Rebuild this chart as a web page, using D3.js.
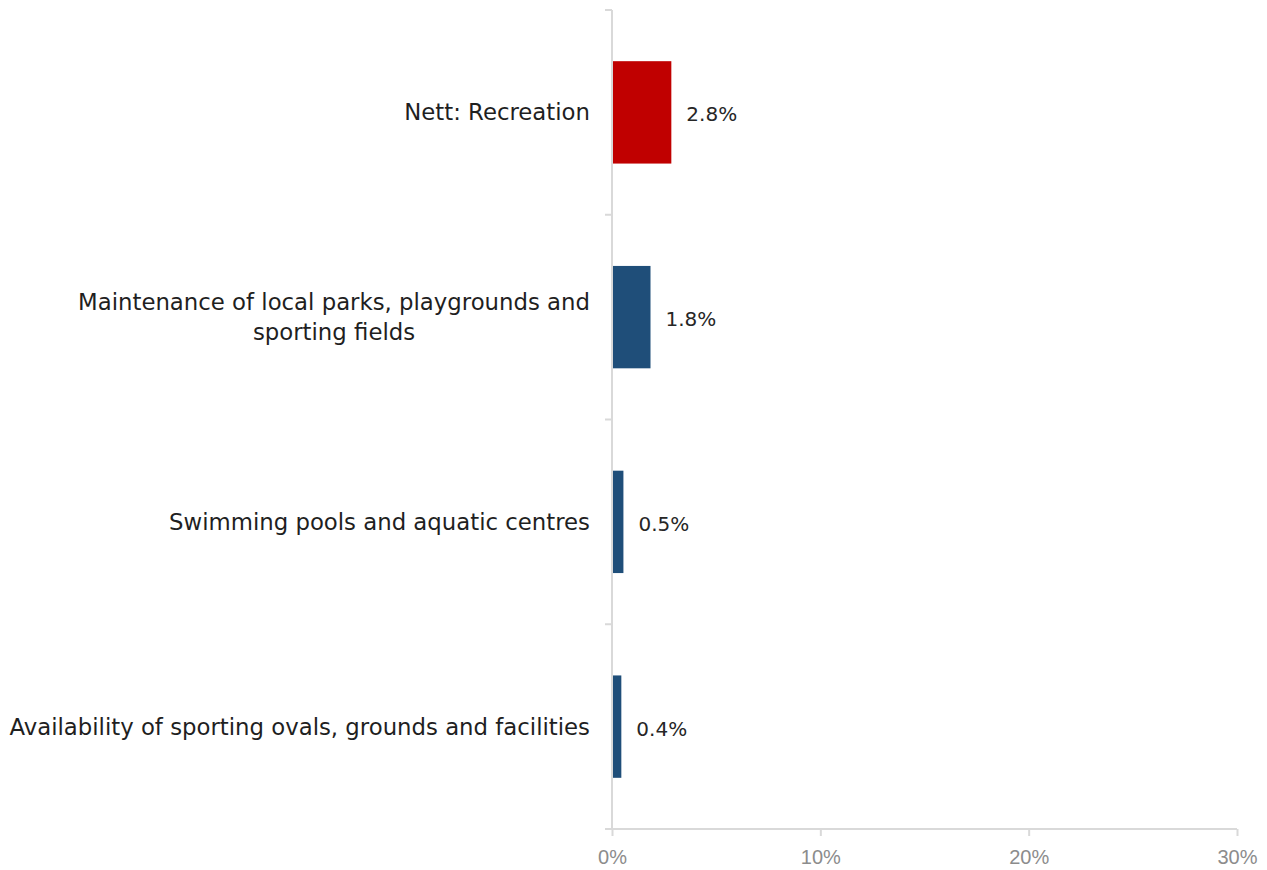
<!DOCTYPE html>
<html>
<head>
<meta charset="utf-8">
<script src="https://cdn.jsdelivr.net/npm/d3@7"></script>
<style>
  html, body { margin: 0; padding: 0; background: #fff; }
  svg { display: block; }
</style>
</head>
<body>
<svg id="chart" width="1267" height="870"></svg>
<script>
// Category labels (line breaks marked with \n), values in percent, bar colours
const categories = [
  "Nett: Recreation",
  "Maintenance of local parks, playgrounds and\nsporting fields",
  "Swimming pools and aquatic centres",
  "Availability of sporting ovals, grounds and facilities"
];
const values = [2.8, 1.8, 0.5, 0.4];
const barColors = ["#c00000", "#1f4e79", "#1f4e79", "#1f4e79"];
const xTicks = [0, 10, 20, 30];

const svg = d3.select("#chart");
const plot = { left: 612, right: 1237, top: 10, bottom: 829 };

const x = d3.scaleLinear().domain([0, 30]).range([plot.left, plot.right]);
const y = d3.scaleBand().domain(categories).range([plot.top, plot.bottom]).paddingInner(0.5).paddingOuter(0.25);

const axisColor = "#d9d9d9";
const labelFont = "'DejaVu Sans', sans-serif";

// Bars
svg.append("g").selectAll("rect")
  .data(categories)
  .join("rect")
  .attr("x", x(0) + 1)
  .attr("y", d => y(d))
  .attr("width", (d, i) => x(values[i]) - x(0))
  .attr("height", y.bandwidth())
  .attr("fill", (d, i) => barColors[i]);

// Value labels
svg.append("g").selectAll("text")
  .data(categories)
  .join("text")
  .attr("x", (d, i) => x(values[i]) + 16)
  .attr("y", d => y(d) + y.bandwidth() / 2 + 2)
  .attr("dy", "0.35em")
  .attr("font-family", labelFont)
  .attr("font-size", 20)
  .attr("fill", "#262626")
  .text((d, i) => values[i].toFixed(1) + "%");

// Vertical (category) axis with boundary ticks between categories
const yAxis = svg.append("g");
yAxis.append("line")
  .attr("x1", plot.left).attr("x2", plot.left)
  .attr("y1", plot.top).attr("y2", plot.bottom)
  .attr("stroke", axisColor).attr("stroke-width", 2);
const bounds = d3.range(categories.length + 1).map(i => plot.top + i * (plot.bottom - plot.top) / categories.length);
yAxis.selectAll("line.tick")
  .data(bounds)
  .join("line")
  .attr("class", "tick")
  .attr("x1", plot.left - 7).attr("x2", plot.left)
  .attr("y1", d => d).attr("y2", d => d)
  .attr("stroke", axisColor).attr("stroke-width", 2);

// Category labels, right-aligned block, lines centred within the block
categories.forEach(c => {
  const lines = c.split("\n");
  const cy = y(c) + y.bandwidth() / 2;
  const lh = 30;
  const t = svg.append("text")
    .attr("font-family", labelFont)
    .attr("font-size", 22.8)
    .attr("fill", "#1f1f1f");
  lines.forEach((ln, i) => {
    t.append("tspan")
      .attr("x", 0)
      .attr("y", cy + (i - (lines.length - 1) / 2) * lh)
      .attr("dy", "0.35em")
      .attr("text-anchor", "middle")
      .text(ln);
  });
  const w = t.node().getBBox().width;
  t.selectAll("tspan").attr("x", 590 - w / 2);
});

// Horizontal value axis
const xAxis = svg.append("g").attr("transform", `translate(0,${plot.bottom})`)
  .call(d3.axisBottom(x).tickValues(xTicks).tickFormat(d => d + "%").tickSize(7).tickSizeOuter(0));
xAxis.select(".domain").attr("stroke", axisColor).attr("stroke-width", 2)
  .attr("d", `M${plot.left - 7},0H${plot.right}`);
xAxis.selectAll(".tick line").attr("stroke", axisColor).attr("stroke-width", 2);
xAxis.selectAll(".tick text")
  .attr("font-family", "'Liberation Sans Narrow', 'Arial Narrow', sans-serif")
  .attr("font-size", 20)
  .attr("fill", "#8c8c8c")
  .attr("y", 21);
</script>
</body>
</html>
